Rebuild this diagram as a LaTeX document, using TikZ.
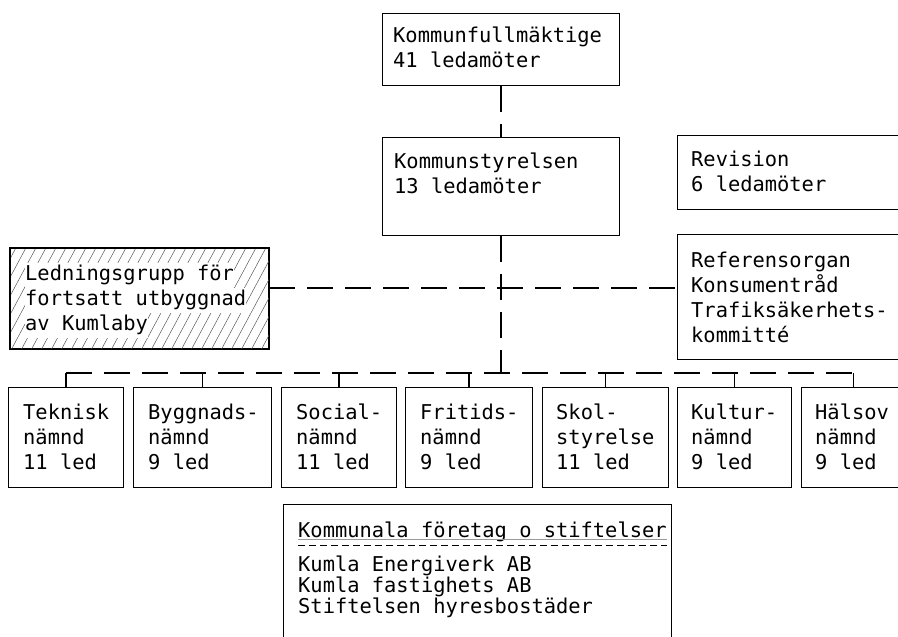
\documentclass[tikz,border=0pt]{standalone}
\usepackage{fontspec}
\newfontfamily\tw{DejaVu Sans Mono}
\usetikzlibrary{calc}
\newcommand\lns[1]{\begin{tabular}[t]{@{}l@{}}#1\end{tabular}}
\begin{document}
\begin{tikzpicture}[x=1pt,y=-1pt,
  box/.style={draw, line width=1.1pt, rectangle, inner sep=0pt, anchor=north west},
  txt/.style={anchor=base west, inner sep=0pt, font=\tw\fontsize{20.4pt}{25pt}\selectfont},
  tightlist/.style={anchor=base west, inner sep=0pt, font=\tw\fontsize{20.4pt}{18.7pt}\selectfont},
  conn/.style={line width=1.2pt, dash pattern=on 26pt off 12pt},
  tick/.style={line width=1.2pt},
  hatch/.style={line width=0.5pt, black!65},
  uline/.style={line width=0.5pt, black!40},
  dline/.style={line width=1pt, dash pattern=on 7pt off 4pt}]
\useasboundingbox (0,0) rectangle (898,637);
\clip (0,0) rectangle (898,637);

% upper boxes
\node[box, minimum width=237pt, minimum height=72pt] (kf) at (382,13) {};
\node[box, minimum width=237pt, minimum height=98pt] (ks) at (382,137) {};
\node[box, minimum width=240pt, minimum height=74pt] (rev) at (677,135) {};
\node[box, minimum width=240pt, minimum height=125pt] (ref) at (677,234) {};
\node[box, minimum width=258pt, minimum height=100pt] (lg) at (10,248) {};

% hatching of Ledningsgrupp box
\begin{scope}
  \clip (lg.north west) rectangle (lg.south east);
  \foreach \i in {-7,...,28} \draw[hatch] (\i*10,352) -- ++(58,-108);
\end{scope}
\draw[line width=1.1pt] (lg.north west) rectangle (lg.south east);

% lower row
\node[box, minimum width=115pt, minimum height=100pt] (tek) at (8,387) {};
\node[box, minimum width=138pt, minimum height=100pt] (byg) at (133,387) {};
\node[box, minimum width=115pt, minimum height=100pt] (soc) at (281,387) {};
\node[box, minimum width=127pt, minimum height=100pt] (fri) at (405,387) {};
\node[box, minimum width=126pt, minimum height=100pt] (sko) at (542,387) {};
\node[box, minimum width=114pt, minimum height=100pt] (kul) at (677,387) {};
\node[box, minimum width=104pt, minimum height=100pt] (hal) at (801,387) {};

\node[box, minimum width=388pt, minimum height=160pt] (kom) at (283,504) {};

% texts
\node[txt] (tkf) at ([xshift=11pt,yshift=-29pt]kf.north west) {\lns{Kommunfullmäktige\\41 ledamöter}};
\node[txt] (tks) at ([xshift=12pt,yshift=-31pt]ks.north west) {\lns{Kommunstyrelsen\\13 ledamöter}};
\node[txt] (trev) at ([xshift=14pt,yshift=-31pt]rev.north west) {\lns{Revision\\6 ledamöter}};
\node[txt] (tref) at ([xshift=14pt,yshift=-33pt]ref.north west) {\lns{Referensorgan\\Konsumentråd\\Trafiksäkerhets-\\kommitté}};
\node[txt, fill=white] (tlg1) at ([xshift=15pt,yshift=-32pt]lg.north west) {\strut Ledningsgrupp för};
\node[txt, fill=white] (tlg2) at ([yshift=-25pt]tlg1.base west) {\strut fortsatt utbyggnad};
\node[txt, fill=white] (tlg3) at ([yshift=-25pt]tlg2.base west) {\strut av Kumlaby};

\node[txt] (ttek) at ([xshift=15pt,yshift=-32pt]tek.north west) {\lns{Teknisk\\nämnd\\11 led}};
\node[txt] (tbyg) at ([xshift=15pt,yshift=-32pt]byg.north west) {\lns{Byggnads-\\nämnd\\9 led}};
\node[txt] (tsoc) at ([xshift=15pt,yshift=-32pt]soc.north west) {\lns{Social-\\nämnd\\11 led}};
\node[txt] (tfri) at ([xshift=15pt,yshift=-32pt]fri.north west) {\lns{Fritids-\\nämnd\\9 led}};
\node[txt] (tsko) at ([xshift=14pt,yshift=-32pt]sko.north west) {\lns{Skol-\\styrelse\\11 led}};
\node[txt] (tkul) at ([xshift=14pt,yshift=-32pt]kul.north west) {\lns{Kultur-\\nämnd\\9 led}};
\node[txt] (thal) at ([xshift=14pt,yshift=-32pt]hal.north west) {\lns{Hälsov\\nämnd\\9 led}};

\node[txt] (tkomh) at ([xshift=15pt,yshift=-33pt]kom.north west) {Kommunala företag o stiftelser};
\draw[uline] ([yshift=-2pt]tkomh.base west) -- ([yshift=-2pt]tkomh.base east);
\draw[dline] ([yshift=-8pt]tkomh.base west) -- ([yshift=-8pt]tkomh.base east);
\node[tightlist] (tkoml) at ([yshift=-34pt]tkomh.base west) {\lns{Kumla Energiverk AB\\Kumla fastighets AB\\Stiftelsen hyresbostäder}};

% connectors
\coordinate (mid) at (500,288);
\coordinate (bl) at (500,373);
\draw[conn] (kf.south) -- (ks.north);
\draw[conn] (ks.south) -- (ks.south |- bl);
\draw[conn] (lg.east |- mid) -- (ref.west |- mid);
\draw[conn] (tek.north |- bl) -- (hal.north |- bl);
\foreach \b in {tek,byg,soc,fri,sko,kul,hal}
  \draw[tick] (\b.north) -- (\b.north |- bl);
\end{tikzpicture}
\end{document}
